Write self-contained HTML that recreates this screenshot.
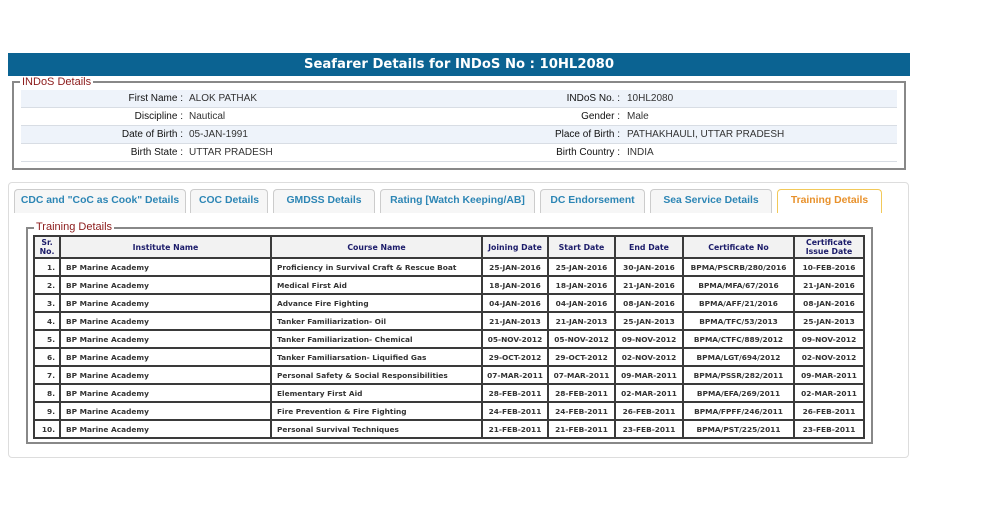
<!DOCTYPE html>
<html><head><meta charset="utf-8"><style>
*{box-sizing:border-box;margin:0;padding:0}
body{width:1008px;height:510px;background:#fff;position:relative;font-family:"Liberation Sans",Arial,sans-serif;overflow:hidden}
.hdr{position:absolute;left:8px;top:53px;width:902px;height:23px;background:#0b6392;color:#fff;font:bold 13.2px "DejaVu Sans",Verdana,sans-serif;text-align:center;line-height:23px}
.fs{position:absolute;border:2px solid #888;}
.lg{position:absolute;background:#fff;color:#8b1a1a;font-size:11px;padding:0 2px;line-height:12px}
.row{position:absolute;left:21px;width:876px;height:18px;border-bottom:1px solid #d8dde4;font-size:10px;color:#333;line-height:18px}
.row.s{background:#eef3fa}
.row span{position:absolute}
.l{text-align:right;color:#111}
.panel{position:absolute;left:8px;top:182px;width:901px;height:276px;border:1px solid #ddd;border-radius:4px}
.tab{position:absolute;top:189px;height:24px;border:1px solid #ccc;border-bottom:none;border-radius:4px 4px 0 0;background:#f6f6f6;color:#2d86b5;font-weight:bold;font-size:10.4px;text-align:center;line-height:22px;white-space:nowrap}
.tab.a{background:#fff;border-color:#f2c95a;color:#e8912b}
table{position:absolute;left:33px;top:235px;width:830px;table-layout:fixed;border-collapse:collapse;font:bold 7.4px "DejaVu Sans",Verdana,sans-serif;color:#333}
td,th{border:2px solid #3a3a3a;height:18px;padding:0 5px;white-space:nowrap;overflow:hidden}
th{background:#f2f2f2;color:#1c1c6a;height:22px;font-size:7.8px;line-height:9px;text-align:center;padding:0 2px}
td.c{text-align:center;padding:0 2px}td.r{text-align:right;padding:0 4px 0 0}
</style></head><body>
<div class="hdr">Seafarer Details for INDoS No : 10HL2080</div>
<div class="fs" style="left:12px;top:81px;width:894px;height:89px"></div>
<div class="lg" style="left:20px;top:76px">INDoS Details</div>
<div class="row s" style="top:90px"><span class="l" style="right:714px">First Name :</span><span style="left:168px">ALOK PATHAK</span><span class="l" style="right:277px">INDoS No. :</span><span style="left:606px">10HL2080</span></div>
<div class="row" style="top:108px"><span class="l" style="right:714px">Discipline :</span><span style="left:168px">Nautical</span><span class="l" style="right:277px">Gender :</span><span style="left:606px">Male</span></div>
<div class="row s" style="top:126px"><span class="l" style="right:714px">Date of Birth :</span><span style="left:168px">05-JAN-1991</span><span class="l" style="right:277px">Place of Birth :</span><span style="left:606px">PATHAKHAULI, UTTAR PRADESH</span></div>
<div class="row" style="top:144px"><span class="l" style="right:714px">Birth State :</span><span style="left:168px">UTTAR PRADESH</span><span class="l" style="right:277px">Birth Country :</span><span style="left:606px">INDIA</span></div>
<div class="panel"></div>
<div class="tab" style="left:14px;width:172px">CDC and "CoC as Cook" Details</div>
<div class="tab" style="left:190px;width:78px">COC Details</div>
<div class="tab" style="left:273px;width:102px">GMDSS Details</div>
<div class="tab" style="left:380px;width:155px">Rating [Watch Keeping/AB]</div>
<div class="tab" style="left:540px;width:105px">DC Endorsement</div>
<div class="tab" style="left:650px;width:122px">Sea Service Details</div>
<div class="tab a" style="left:777px;width:105px">Training Details</div>
<div class="fs" style="left:26px;top:227px;width:847px;height:217px"></div>
<div class="lg" style="left:34px;top:221px">Training Details</div>
<table>
<colgroup><col style="width:26px"><col style="width:211px"><col style="width:211px"><col style="width:66px"><col style="width:67px"><col style="width:68px"><col style="width:111px"><col style="width:70px"></colgroup>
<tr><th>Sr.<br>No.</th><th>Institute Name</th><th>Course Name</th><th>Joining Date</th><th>Start Date</th><th>End Date</th><th>Certificate No</th><th>Certificate<br>Issue Date</th></tr>
<tr><td class="r">1.</td><td>BP Marine Academy</td><td>Proficiency in Survival Craft &amp; Rescue Boat</td><td class="c">25-JAN-2016</td><td class="c">25-JAN-2016</td><td class="c">30-JAN-2016</td><td class="c">BPMA/PSCRB/280/2016</td><td class="c">10-FEB-2016</td></tr>
<tr><td class="r">2.</td><td>BP Marine Academy</td><td>Medical First Aid</td><td class="c">18-JAN-2016</td><td class="c">18-JAN-2016</td><td class="c">21-JAN-2016</td><td class="c">BPMA/MFA/67/2016</td><td class="c">21-JAN-2016</td></tr>
<tr><td class="r">3.</td><td>BP Marine Academy</td><td>Advance Fire Fighting</td><td class="c">04-JAN-2016</td><td class="c">04-JAN-2016</td><td class="c">08-JAN-2016</td><td class="c">BPMA/AFF/21/2016</td><td class="c">08-JAN-2016</td></tr>
<tr><td class="r">4.</td><td>BP Marine Academy</td><td>Tanker Familiarization- Oil</td><td class="c">21-JAN-2013</td><td class="c">21-JAN-2013</td><td class="c">25-JAN-2013</td><td class="c">BPMA/TFC/53/2013</td><td class="c">25-JAN-2013</td></tr>
<tr><td class="r">5.</td><td>BP Marine Academy</td><td>Tanker Familiarization- Chemical</td><td class="c">05-NOV-2012</td><td class="c">05-NOV-2012</td><td class="c">09-NOV-2012</td><td class="c">BPMA/CTFC/889/2012</td><td class="c">09-NOV-2012</td></tr>
<tr><td class="r">6.</td><td>BP Marine Academy</td><td>Tanker Familiarsation- Liquified Gas</td><td class="c">29-OCT-2012</td><td class="c">29-OCT-2012</td><td class="c">02-NOV-2012</td><td class="c">BPMA/LGT/694/2012</td><td class="c">02-NOV-2012</td></tr>
<tr><td class="r">7.</td><td>BP Marine Academy</td><td>Personal Safety &amp; Social Responsibilities</td><td class="c">07-MAR-2011</td><td class="c">07-MAR-2011</td><td class="c">09-MAR-2011</td><td class="c">BPMA/PSSR/282/2011</td><td class="c">09-MAR-2011</td></tr>
<tr><td class="r">8.</td><td>BP Marine Academy</td><td>Elementary First Aid</td><td class="c">28-FEB-2011</td><td class="c">28-FEB-2011</td><td class="c">02-MAR-2011</td><td class="c">BPMA/EFA/269/2011</td><td class="c">02-MAR-2011</td></tr>
<tr><td class="r">9.</td><td>BP Marine Academy</td><td>Fire Prevention &amp; Fire Fighting</td><td class="c">24-FEB-2011</td><td class="c">24-FEB-2011</td><td class="c">26-FEB-2011</td><td class="c">BPMA/FPFF/246/2011</td><td class="c">26-FEB-2011</td></tr>
<tr><td class="r">10.</td><td>BP Marine Academy</td><td>Personal Survival Techniques</td><td class="c">21-FEB-2011</td><td class="c">21-FEB-2011</td><td class="c">23-FEB-2011</td><td class="c">BPMA/PST/225/2011</td><td class="c">23-FEB-2011</td></tr>
</table>
</body></html>
